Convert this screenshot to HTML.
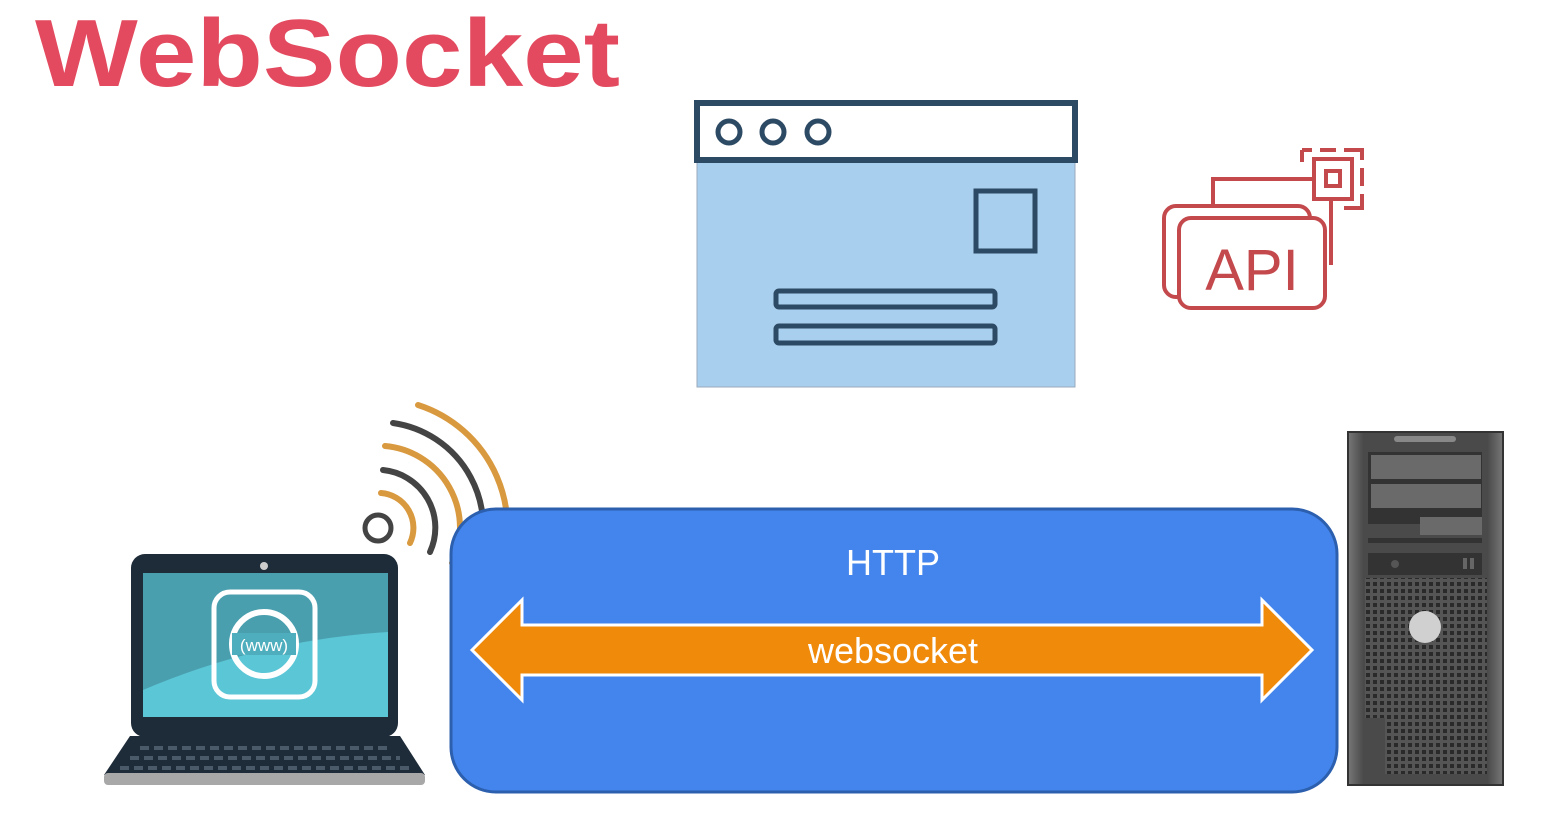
<!DOCTYPE html>
<html><head><meta charset="utf-8"><style>html,body{margin:0;padding:0;background:#fff}svg{display:block}</style></head><body>
<svg width="1559" height="820" viewBox="0 0 1559 820" xmlns="http://www.w3.org/2000/svg">
<defs>
<pattern id="dots" width="7" height="7" patternUnits="userSpaceOnUse"><rect width="7" height="7" fill="#555"/><rect x="1" y="1" width="4" height="4" fill="#2a2a2a"/></pattern>
<linearGradient id="srv" x1="0" x2="1"><stop offset="0" stop-color="#777"/><stop offset="0.1" stop-color="#4a4a4a"/><stop offset="0.9" stop-color="#4a4a4a"/><stop offset="1" stop-color="#777"/></linearGradient>
</defs>
<text x="35" y="86" font-family="Liberation Sans, sans-serif" font-weight="bold" font-size="96" fill="#e34a5f" textLength="585" lengthAdjust="spacingAndGlyphs">WebSocket</text>

<!-- browser window -->
<rect x="697" y="160" width="378" height="227" fill="#a9cfee" stroke="#9ab" stroke-width="1"/>
<rect x="697" y="103" width="378" height="57" fill="#fff" stroke="#2d4a64" stroke-width="6"/>
<circle cx="729" cy="132" r="11" fill="none" stroke="#2d4a64" stroke-width="5"/>
<circle cx="773" cy="132" r="11" fill="none" stroke="#2d4a64" stroke-width="5"/>
<circle cx="818" cy="132" r="11" fill="none" stroke="#2d4a64" stroke-width="5"/>
<rect x="976" y="191" width="59" height="60" fill="none" stroke="#2d4a64" stroke-width="5"/>
<rect x="776" y="291" width="219" height="16" rx="3" fill="none" stroke="#2d4a64" stroke-width="5"/>
<rect x="776" y="326" width="219" height="17" rx="3" fill="none" stroke="#2d4a64" stroke-width="5"/>

<!-- API icon -->
<g fill="none" stroke="#c4494c" stroke-width="4">
<rect x="1164" y="206" width="146" height="91" rx="12"/>
<rect x="1179" y="218" width="146" height="90" rx="12" fill="#fff"/>
<path d="M1213 205 V179 H1314"/>
<rect x="1314" y="159" width="38" height="40"/>
<rect x="1326" y="171" width="14" height="15"/>
<path d="M1331 200 V265"/>
<path d="M1302 150 h10 M1320 150 h16 M1344 150 h18 v10 M1362 168 v18 M1362 194 v14 h-18 M1302 150 v12" stroke-dasharray="none"/>
</g>
<text x="1252" y="290" text-anchor="middle" font-family="Liberation Sans, sans-serif" font-size="58" fill="#c4494c">API</text>

<!-- wifi -->
<g fill="none" stroke-width="6" stroke-linecap="round">
<circle cx="378" cy="528" r="13" stroke="#444" stroke-width="5"/>
<path d="M381 493 A35 35 0 0 1 410 543" stroke="#d9993e"/>
<path d="M383 470 A58 58 0 0 1 430 552" stroke="#444"/>
<path d="M385 446 A82 82 0 0 1 452 563" stroke="#d9993e"/>
<path d="M393 423 A105 105 0 0 1 473 572" stroke="#444"/>
<path d="M418 405 A129 129 0 0 1 495 583" stroke="#d9993e"/>
</g>

<!-- blue box -->
<rect x="451" y="509" width="886" height="283" rx="45" fill="#4385ec" stroke="#2c5fae" stroke-width="3"/>
<text x="893" y="575" text-anchor="middle" font-family="Liberation Sans, sans-serif" font-size="36" fill="#fff">HTTP</text>
<polygon points="472,650 522,600 522,625 1262,625 1262,600 1312,650 1262,700 1262,675 522,675 522,700" fill="#ef8a0b" stroke="#fff" stroke-width="3" stroke-linejoin="miter"/>
<text x="893" y="663" text-anchor="middle" font-family="Liberation Sans, sans-serif" font-size="36" fill="#fff">websocket</text>

<!-- laptop -->
<rect x="131" y="554" width="267" height="183" rx="14" fill="#1e2b38"/>
<circle cx="264" cy="566" r="4" fill="#ccc"/>
<rect x="143" y="573" width="245" height="144" fill="#4a9fae"/>
<path d="M143 690 Q260 640 388 632 V717 H143 Z" fill="#5bc6d6"/>
<rect x="214" y="592" width="101" height="105" rx="16" fill="none" stroke="#fff" stroke-width="5"/>
<circle cx="264" cy="644" r="32" fill="none" stroke="#fff" stroke-width="6"/>
<rect x="232" y="633" width="64" height="22" fill="#4faebd"/>
<text x="264" y="651" text-anchor="middle" font-family="Liberation Sans, sans-serif" font-size="17" fill="#fff">(www)</text>
<polygon points="130,736 400,736 425,775 104,775" fill="#1e2b38"/>
<rect x="104" y="773" width="321" height="12" rx="4" fill="#a8a8a8"/>
<g stroke="#4a5a68" stroke-width="4" stroke-dasharray="9,5">
<path d="M140 748 H390"/><path d="M130 758 H400"/><path d="M120 768 H410"/>
</g>

<!-- server -->
<rect x="1348" y="432" width="155" height="353" fill="url(#srv)" stroke="#333" stroke-width="2"/>
<rect x="1394" y="436" width="62" height="6" rx="3" fill="#888"/>
<rect x="1368" y="452" width="114" height="72" fill="#333"/>
<rect x="1371" y="455" width="110" height="24" fill="#6a6a6a"/>
<rect x="1371" y="484" width="110" height="24" fill="#6a6a6a"/>
<rect x="1420" y="517" width="62" height="18" fill="#6a6a6a"/>
<rect x="1368" y="538" width="114" height="5" fill="#333"/>
<rect x="1368" y="553" width="114" height="22" fill="#333"/>
<circle cx="1395" cy="564" r="4" fill="#555"/>
<rect x="1463" y="558" width="4" height="11" fill="#666"/><rect x="1470" y="558" width="4" height="11" fill="#666"/>
<rect x="1365" y="578" width="122" height="140" fill="url(#dots)"/>
<rect x="1385" y="718" width="102" height="56" fill="url(#dots)"/>
<circle cx="1425" cy="627" r="16" fill="#d0d0d0"/>
</svg>
</body></html>
